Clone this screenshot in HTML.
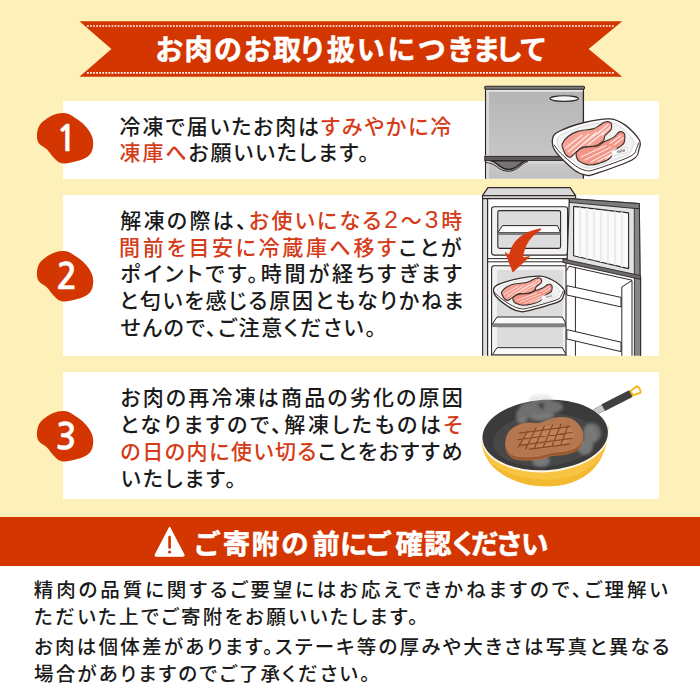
<!DOCTYPE html>
<html lang="ja"><head><meta charset="utf-8"><title>お肉のお取り扱いにつきまして</title>
<style>
html,body{margin:0;padding:0}
body{width:700px;height:700px;position:relative;overflow:hidden;background:#FEF0B9;font-family:"Liberation Sans","Noto Sans CJK JP",sans-serif}
.t{position:absolute;white-space:nowrap;letter-spacing:var(--ls);line-height:30px;height:30px;margin:0}
.card{position:absolute;left:62.6px;width:596.4px;background:#fff}
svg{position:absolute;left:0;top:0}
.hd{font-family:"Liberation Sans","Noto Sans CJK JP",sans-serif;font-weight:700;fill:#fff;stroke:#fff;stroke-width:.55;stroke-linejoin:round}
.num{font-family:"NanumGothic","Liberation Sans",sans-serif;font-weight:700;font-size:35px;fill:#fff;stroke:#fff;stroke-width:.3;stroke-linejoin:round;text-anchor:middle}
</style></head><body>
<div class="card" style="top:101px;height:77.8px"></div>
<div class="card" style="top:195px;height:160.7px"></div>
<div class="card" style="top:371.7px;height:127.6px"></div>
<div style="position:absolute;left:0;top:517px;width:700px;height:48.7px;background:#D43601"></div>
<div style="position:absolute;left:0;top:565.7px;width:700px;height:134.3px;background:#fff"></div>
<svg width="700" height="700" viewBox="0 0 700 700">
<polygon points="79.4,21.2 622.3,21.2 588.6,49 622.3,76.7 79.4,76.7 111.4,49" fill="#D43601"/>
<path d="M87,26H615M87,72.9H615" stroke="#fff" stroke-width="1.7" stroke-dasharray="1.75 1.32" fill="none"/>
<path d="M37,138 C36.5,128 40,123 45,120 C50,116 56,113 63,113 C68,113 71,115 74.5,117.5 C80,121 84,124 87,128 C91,133 93.5,138 93.2,144 C93,149 92,152.5 89,155.5 C84,160 77,161 71,162.5 C68,163.3 65,163.8 62,163.3 C58,162.5 56.5,160.5 54,158 C51,155 49.5,152 46.5,149 C43,146 37.5,145 37,138 Z" fill="#D43601"/>
<path d="M37,138 C36.5,128 40,123 45,120 C50,116 56,113 63,113 C68,113 71,115 74.5,117.5 C80,121 84,124 87,128 C91,133 93.5,138 93.2,144 C93,149 92,152.5 89,155.5 C84,160 77,161 71,162.5 C68,163.3 65,163.8 62,163.3 C58,162.5 56.5,160.5 54,158 C51,155 49.5,152 46.5,149 C43,146 37.5,145 37,138 Z" fill="#D43601" transform="translate(0,138)"/>
<path d="M37,138 C36.5,128 40,123 45,120 C50,116 56,113 63,113 C68,113 71,115 74.5,117.5 C80,121 84,124 87,128 C91,133 93.5,138 93.2,144 C93,149 92,152.5 89,155.5 C84,160 77,161 71,162.5 C68,163.3 65,163.8 62,163.3 C58,162.5 56.5,160.5 54,158 C51,155 49.5,152 46.5,149 C43,146 37.5,145 37,138 Z" fill="#D43601" transform="translate(0,298)"/>
<text class="num" x="66.6" y="151">1</text>
<text class="num" x="66.8" y="288.8">2</text>
<text class="num" x="66" y="449">3</text>
<path d="M169.6,527.4 L183.8,554.6 Q184.6,556.2 182.8,556.2 L156.4,556.2 Q154.6,556.2 155.4,554.6 Z" fill="#fff" stroke="#fff" stroke-width="1.2" stroke-linejoin="round"/>
<path d="M169.6,537.2 V547.4" stroke="#D43601" stroke-width="2.7" stroke-linecap="round"/>
<circle cx="169.6" cy="552" r="1.6" fill="#D43601"/>
<defs>
<clipPath id="c1"><rect x="62" y="70" width="598" height="108.8"/></clipPath>
<clipPath id="c2"><rect x="62" y="180" width="598" height="175.7"/></clipPath>
<g id="tray">
<path vector-effect="non-scaling-stroke" d="M552.7,138.0 C553.5,134.7 554.7,133.6 560.0,131.0 C565.3,128.4 576.0,124.5 584.4,122.5 C592.8,120.5 603.2,118.4 610.1,118.9 C617.0,119.4 620.7,121.9 625.6,125.4 C630.5,128.9 637.1,136.0 639.3,140.0 C641.5,144.0 640.0,146.1 638.9,149.4 C637.8,152.7 639.5,155.7 632.4,159.7 C625.3,163.7 604.1,170.8 596.4,173.4 C588.7,176.0 589.8,175.7 586.1,175.1 C582.4,174.5 579.2,174.0 574.1,170.0 C569.0,166.0 558.9,156.4 555.3,151.1 C551.7,145.8 551.9,141.3 552.7,138.0 Z" fill="#fff" stroke="#3b2f2b" stroke-width="1.3" stroke-linejoin="round"/>
<path d="M557.5,138.5 C558.3,135.9 560.2,135.2 565.0,133.0 C569.8,130.8 578.8,127.3 586.0,125.5 C593.2,123.7 602.6,122.0 608.5,122.3 C614.4,122.6 617.4,124.5 621.5,127.5 C625.6,130.4 631.2,136.8 633.0,140.0 C634.8,143.2 633.5,144.5 632.5,147.0 C631.5,149.5 633.1,151.8 627.0,155.0 C620.9,158.2 602.6,164.3 596.0,166.5 C589.4,168.7 590.6,168.4 587.5,168.0 C584.4,167.6 582.1,167.2 577.5,164.0 C572.9,160.8 563.3,152.8 560.0,148.5 C556.7,144.2 556.7,141.1 557.5,138.5 Z" fill="#f3f3f3" stroke="#cfcfcf" stroke-width=".8"/>
<path vector-effect="non-scaling-stroke" d="M554.2,145.0 C555.2,146.3 557.0,149.5 560.5,153.0 C564.0,156.5 571.2,162.9 575.5,165.8 C579.8,168.7 583.0,170.1 586.5,170.6 C590.0,171.1 589.2,171.3 596.5,169.0 C603.8,166.7 623.3,159.9 630.0,156.5 C636.7,153.1 635.1,150.8 636.5,148.5 C637.9,146.2 638.1,143.9 638.4,143.0" fill="none" stroke="#3b2f2b" stroke-width="1" stroke-linecap="round"/>
<path vector-effect="non-scaling-stroke" d="M576.7,152.0 C578.0,150.4 581.1,148.1 584.4,147.2 C587.7,146.2 593.1,147.2 596.4,146.3 C599.7,145.4 601.2,143.2 604.1,141.7 C607.0,140.2 611.2,139.0 613.6,137.4 C616.0,135.8 617.3,133.2 618.7,132.3 C620.1,131.4 621.0,131.5 622.0,131.8 C623.0,132.1 624.0,132.8 624.5,134.0 C625.0,135.2 625.0,137.4 624.7,139.1 C624.5,140.8 624.9,142.3 623.0,144.3 C621.1,146.3 615.8,148.8 613.6,151.1 C611.5,153.4 612.4,156.0 610.1,158.0 C607.8,160.0 603.6,161.9 599.9,163.1 C596.2,164.2 591.3,165.2 587.9,164.9 C584.5,164.6 581.2,162.7 579.3,161.4 C577.4,160.1 576.9,158.6 576.5,157.0 C576.1,155.4 575.4,153.6 576.7,152.0 Z" fill="#F39486" stroke="#3b2f2b" stroke-width="1.1" stroke-linejoin="round"/>
<path d="M581,157 L606,145.5 M585,160 L611,147 M591,162 L616,148.5 M598,161.5 L619,150 M606,159 L621,148 M610,143.5 L621,135.5 M614,145 L623,138" stroke="#fde4df" stroke-width="1.2" stroke-linecap="round" fill="none"/>
<path vector-effect="non-scaling-stroke" d="M562.1,144.3 C562.9,142.1 565.4,138.7 568.0,136.5 C570.6,134.3 573.4,132.7 577.6,131.4 C581.8,130.1 589.3,130.0 593.0,128.9 C596.7,127.8 598.0,126.2 600.0,125.0 C602.0,123.8 603.5,122.5 605.0,122.0 C606.5,121.5 607.9,121.5 609.0,121.8 C610.1,122.1 611.2,122.7 611.5,124.0 C611.8,125.3 612.1,127.7 611.0,129.7 C609.9,131.6 606.3,133.8 605.0,135.7 C603.7,137.6 605.0,139.2 603.3,140.9 C601.6,142.6 598.1,145.0 594.7,146.0 C591.3,147.0 585.8,145.9 582.7,146.9 C579.6,147.9 577.9,150.3 575.9,152.0 C573.9,153.7 572.4,156.6 570.7,157.1 C569.1,157.6 567.2,156.2 566.0,155.0 C564.8,153.8 564.1,151.8 563.5,150.0 C562.9,148.2 561.4,146.6 562.1,144.3 Z" fill="#F5A093" stroke="#3b2f2b" stroke-width="1.1" stroke-linejoin="round"/>
<path d="M565.5,148 L582,135 M568.5,151.5 L589,134 M573,153 L596,132.5 M580,146.5 L601,130.5 M588,145 L604,132 M598,133.5 L608,124.5 M602,135 L610,127" stroke="#fde8e4" stroke-width="1.2" stroke-linecap="round" fill="none"/>
<g transform="rotate(-14 621 151)"><rect x="611.5" y="148.6" width="16" height="5" fill="#fff" stroke="#bbb" stroke-width=".4"/><path d="M617.5,149.8v2.6M619,149.8v2.6M620.3,149.8v2.6M621.8,149.8v2.6M623.2,149.8v2.6M624.4,149.8v2.6" stroke="#555" stroke-width=".7"/></g>
</g>
</defs>
<g clip-path="url(#c1)">
<linearGradient id="fg" x1="0" y1="0" x2="0" y2="1"><stop offset="0" stop-color="#b4b4b4"/><stop offset=".72" stop-color="#c6c6c6"/><stop offset=".8" stop-color="#c8c8c8"/><stop offset="1" stop-color="#bdbdbd"/></linearGradient>
<rect x="485.6" y="88" width="97.8" height="95" fill="url(#fg)" stroke="#2e2725" stroke-width="1.3"/>
<rect x="486.3" y="89" width="2.6" height="95" fill="#dcdcdc"/>
<rect x="486.3" y="89.8" width="96.4" height="2" fill="#e4e4e4"/>
<rect x="484.7" y="86.3" width="99.8" height="3" rx="1.2" fill="#7b7b7b" stroke="#2e2725" stroke-width="1.1"/>
<ellipse cx="564.2" cy="98.6" rx="14.2" ry="2.8" fill="#f4f4f4" stroke="#2e2725" stroke-width="1.1"/>
<rect x="485" y="155.2" width="99" height="1.2" fill="#e2e2e2"/>
<rect x="484.8" y="156.3" width="99.4" height="4.4" fill="#5e5a59" stroke="#2e2725" stroke-width="1"/>
<rect x="486.3" y="161.2" width="96.4" height="2.2" fill="#dadada"/>
<path d="M490,160.8 C497,160.8 499,169.4 508.5,169.4 C518,169.4 521,160.8 527,160.8 Z" fill="#747474" stroke="#2e2725" stroke-width="1.5"/>
<path d="M485.5,162.6 C488,162.6 489,163 491,163.6 C497,165 499,171.2 508.5,171.2 C518,171.2 521,163 528,161.6" fill="none" stroke="#2e2725" stroke-width="1"/>
<use href="#tray"/>
</g>
<g clip-path="url(#c2)" stroke-linejoin="round">
<rect x="482.6" y="197" width="6" height="165" fill="#dedede" stroke="#2e2725" stroke-width="1.1"/>
<rect x="487.6" y="197" width="82" height="165" fill="#fff" stroke="#2e2725" stroke-width="1.2"/>
<path d="M487.9,187.6 H570.1 L575.6,195.7 H482.5 Z" fill="#d9d9d9" stroke="#2e2725" stroke-width="1.2"/>
<path d="M482.5,195.7 H575.6 V198.6 H482.5 Z" fill="#d6d6d6" stroke="#2e2725" stroke-width="1.1"/>
<rect x="491.6" y="206.7" width="76" height="48.4" rx="2.5" fill="#f2f2f2" stroke="#2e2725" stroke-width="1.1"/>
<rect x="497.8" y="210.6" width="62.8" height="37.8" rx="1.8" fill="#dcdcdc" stroke="#2e2725" stroke-width="1.1"/>
<path d="M502.5,225.6 H557.5 L560.4,232.6 H498 Z" fill="#fafafa" stroke="#2e2725" stroke-width="1"/>
<path d="M498,232.6 H560.4 V235 H498 Z" fill="#7d7d7d"/>
<path d="M488,258.6 H569 M488,261.8 H569" stroke="#2e2725" stroke-width="1" fill="none"/>
<path d="M494,265.8 H565.5 Q567.5,265.8 567.5,267.8 V362 H491.6 V268.2 Q491.6,265.8 494,265.8 Z" fill="#f2f2f2" stroke="#2e2725" stroke-width="1.1"/>
<path d="M497,270 H563 V362 H497 Z" fill="#dcdcdc"/>
<path d="M497,317 H562.3 L566.2,324.1 H492.3 Z" fill="#fafafa" stroke="#2e2725" stroke-width="1"/>
<path d="M492.3,324.1 H566.2 V327.3 H492.3 Z" fill="#808080"/>
<path d="M492.3,327.3 H497 V362 H492.3 Z M563,327.3 H566.6 V362 H563Z" fill="#f2f2f2"/>
<path d="M497,347.7 H562.3 L566.2,354.8 H492.3 Z" fill="#fafafa" stroke="#2e2725" stroke-width="1"/>
<path d="M492.3,354.8 H566.2 V358 H492.3 Z" fill="#808080"/>
<use href="#tray" transform="translate(47.9,201.3) scale(0.807,0.63)"/>
<path d="M569.3,198.6 L639.3,203.6 L640,277.2 L567.1,260.9 Z" fill="#e2e2e2" stroke="#2e2725" stroke-width="1.2"/>
<path d="M569.3,198.6 L639.3,203.6 L639.4,208.6 L634.3,208.4 L569.6,202.4 Z" fill="#7d7d7d" stroke="#2e2725" stroke-width=".9"/>
<path d="M634.3,208.4 L639.4,208.6 L640,277.2 L634.3,275.9 Z" fill="#868686" stroke="#2e2725" stroke-width=".9"/>
<path d="M573.6,206.4 L628.6,212.9 L628.6,268.6 L573.6,255.7 Z" fill="#fbfbfb" stroke="#2e2725" stroke-width="1.1"/>
<path d="M580,207.5 V257 M587,208.3 V258.7 M594,209.1 V260.3 M601,209.9 V262 M608,210.7 V263.6 M615,211.5 V265.2 M622,212.3 V266.9" stroke="#ececec" stroke-width="2.2" fill="none"/>
<path d="M566,261 L640.6,277.5 V362 H566 Z" fill="#fff" stroke="#2e2725" stroke-width="1.1"/>
<path d="M562.9,258.9 L640.6,275.6 L640.6,279.4 L562.9,262.4 Z" fill="#6d6d6d" stroke="#2e2725" stroke-width=".9"/>
<path d="M634.4,278 L640.6,279.4 V362 H634.4 Z" fill="#868686" stroke="#2e2725" stroke-width=".9"/>
<path d="M575.4,268 V362 M621.8,287 V362 M632,280.5 V362" stroke="#2e2725" stroke-width="1" fill="none"/>
<path d="M569,266.2 L632,280.2 M621.8,287 L632,280.5 M569,266.2 L566.3,271" stroke="#2e2725" stroke-width="1" fill="none"/>
<path d="M566.8,285.6 L621,297.4 V306.9 L566.8,295 Z" fill="#fff" stroke="#2e2725" stroke-width="1"/>
<path d="M566.8,329.6 L621,342.2 V351.6 L566.8,339 Z" fill="#fff" stroke="#2e2725" stroke-width="1"/>
<path d="M540.4,228.8 C524,232 512,240 509.4,255.4 L505.4,252.4 L512.9,272 L529.6,256.6 L522.6,257.8 C524,246 530,236 541,229.6 Z" fill="#D63A10" stroke="#D63A10" stroke-width=".8"/>
</g>
<g>
<g transform="translate(2.6,3.2) rotate(-27.3 594 408)">
<rect x="600" y="404.2" width="34" height="7.6" rx="3.2" fill="#404040"/>
<rect x="592" y="405" width="9.5" height="6" rx="1" fill="#c9c9c9" stroke="#8d8d8d" stroke-width=".6"/>
<path d="M633.5,405.6 L641.5,404.2 Q643.6,408 641.5,411.8 L633.5,410.4 Z" fill="none" stroke="#F5B921" stroke-width="2" stroke-linejoin="round"/>
</g>
<path d="M481.6,441.5 C483,468 512,486.3 547,486.3 C583,486.3 608,466 608.9,426 L603,440 C590,462 566,471 545,471.4 C520,471.4 497,462 485,446 Z" fill="#FAC443"/>
<path d="M489,462 C502,478 523,486.3 547,486.3 C572,486.3 592,476 602,456 C590,472 570,479.5 547,479.5 C523,479.5 503,473 489,462 Z" fill="#F4B932"/>
<ellipse cx="545.2" cy="435.9" rx="64" ry="36.4" transform="rotate(-3.5 545.2 435.9)" fill="#FDF7E4"/>
<ellipse cx="545.2" cy="435" rx="62.8" ry="35.2" transform="rotate(-3.5 545.2 435)" fill="#3b3b3b"/>
<ellipse cx="545" cy="440" rx="52" ry="26.5" transform="rotate(-4 545 440)" fill="#474747"/>
<filter id="bl" x="-20%" y="-20%" width="140%" height="140%"><feGaussianBlur stdDeviation="1.6"/></filter>
<g fill="#c8c8c8" opacity=".38" filter="url(#bl)"><ellipse cx="530" cy="409" rx="11" ry="7"/><ellipse cx="553" cy="407" rx="10" ry="6"/><ellipse cx="541" cy="415" rx="13" ry="6"/><ellipse cx="592" cy="433" rx="9" ry="10"/><ellipse cx="585" cy="447" rx="8" ry="8"/><ellipse cx="541" cy="461" rx="9" ry="6"/><ellipse cx="522" cy="416" rx="6" ry="8"/><ellipse cx="541" cy="399" rx="12" ry="4.5"/></g>
<path d="M506.0,443.2 C506.4,440.6 507.5,437.4 509.0,435.2 C510.5,433.0 512.8,431.5 515.0,430.2 C517.2,428.9 519.5,427.9 522.0,427.2 C524.5,426.5 527.3,426.3 530.0,426.2 C532.7,426.1 535.5,426.9 538.0,426.7 C540.5,426.4 542.5,425.5 545.0,424.7 C547.5,423.9 550.2,422.4 553.0,421.7 C555.8,421.0 559.0,420.6 562.0,420.7 C565.0,420.8 568.3,421.1 571.0,422.2 C573.7,423.3 576.2,425.2 578.0,427.2 C579.8,429.2 581.2,431.9 582.0,434.2 C582.8,436.5 583.0,438.9 582.5,441.2 C582.0,443.5 580.6,446.4 579.0,448.2 C577.4,450.0 575.7,451.1 573.0,452.2 C570.3,453.3 566.5,454.1 563.0,454.7 C559.5,455.3 555.3,455.1 552.0,455.7 C548.7,456.3 545.8,457.5 543.0,458.2 C540.2,458.9 538.0,459.4 535.0,459.7 C532.0,460.0 528.2,460.3 525.0,460.2 C521.8,460.1 518.5,459.9 516.0,459.2 C513.5,458.5 511.6,457.6 510.0,456.2 C508.4,454.8 507.2,452.9 506.5,450.7 C505.8,448.5 505.6,445.8 506.0,443.2 Z" fill="#9A5832" stroke="#B96A38" stroke-width=".8"/>
<path d="M506.0,440.0 C506.4,437.4 507.5,434.2 509.0,432.0 C510.5,429.8 512.8,428.3 515.0,427.0 C517.2,425.7 519.5,424.7 522.0,424.0 C524.5,423.3 527.3,423.1 530.0,423.0 C532.7,422.9 535.5,423.8 538.0,423.5 C540.5,423.2 542.5,422.3 545.0,421.5 C547.5,420.7 550.2,419.2 553.0,418.5 C555.8,417.8 559.0,417.4 562.0,417.5 C565.0,417.6 568.3,417.9 571.0,419.0 C573.7,420.1 576.2,422.0 578.0,424.0 C579.8,426.0 581.2,428.7 582.0,431.0 C582.8,433.3 583.0,435.7 582.5,438.0 C582.0,440.3 580.6,443.2 579.0,445.0 C577.4,446.8 575.7,447.9 573.0,449.0 C570.3,450.1 566.5,450.9 563.0,451.5 C559.5,452.1 555.3,451.9 552.0,452.5 C548.7,453.1 545.8,454.3 543.0,455.0 C540.2,455.7 538.0,456.2 535.0,456.5 C532.0,456.8 528.2,457.1 525.0,457.0 C521.8,456.9 518.5,456.7 516.0,456.0 C513.5,455.3 511.6,454.4 510.0,453.0 C508.4,451.6 507.2,449.7 506.5,447.5 C505.8,445.3 505.6,442.6 506.0,440.0 Z" fill="#B5774F" stroke="#C27C4C" stroke-width=".8"/>
<ellipse cx="548" cy="437" rx="26" ry="11" transform="rotate(-8 548 437)" fill="#C48A60" opacity=".55"/>
<path d="M518,447.3 L527.6,431.2 M525.7,448.6 L536,428 M534.1,448.6 L544.3,426.1 M543.1,447.3 L552.7,424.8 M552.1,446 L561.1,424.1 M561.1,444.1 L568.1,425.4 M519.3,433.1 L569.4,426.7 M518,439.6 L572,432.5 M519.3,445.3 L572,438.3 M529.6,449.2 L569.4,444.1" stroke="#7E4424" stroke-width="1.25" stroke-linecap="round" fill="none" opacity=".9"/>
</g>
<text class="hd" x="155.3 184.6 213.9 243.4 272.9 298.4 327.1 356.8 387.6 417.7 446.8 472.4 495.1 519.3" y="60.3" font-size="28">お肉のお取り扱いにつきまして</text>
<text class="hd" x="193.2 222.8 251.6 281.2 312.2 340.0 364.2 395.5 424.0 449.5 471.0 495.5 521.1" y="554.4" font-size="27.5">ご寄附の前にご確認ください</text>
</svg>
<div id="a1" class="t" style="left:119.60px;top:111.50px;font-size:21px;font-weight:500;--ls:1.885px;font-feature-settings:&quot;palt&quot;;"><span style="color:#1a1a1a">冷凍で届いたお肉は</span><span style="color:#D53B17">すみやかに冷</span></div>
<div id="a2" class="t" style="left:119.60px;top:138.30px;font-size:21px;font-weight:500;--ls:1.856px;font-feature-settings:&quot;palt&quot;;"><span style="color:#D53B17">凍庫へ</span><span style="color:#1a1a1a">お願いいたします。</span></div>
<div id="b1" class="t" style="left:120.30px;top:206.00px;font-size:21px;font-weight:500;--ls:2.331px;font-feature-settings:&quot;palt&quot;;"><span style="color:#1a1a1a">解凍の際は、</span><span style="color:#D53B17">お使いになる<span style="font-size:24.5px;line-height:0;padding:0 .6px">2</span>～<span style="font-size:24.5px;line-height:0;padding:0 .6px">3</span>時</span></div>
<div id="b2" class="t" style="left:119.10px;top:232.70px;font-size:21px;font-weight:500;--ls:2.649px;font-feature-settings:&quot;palt&quot;;"><span style="color:#D53B17">間前を目安に冷蔵庫へ移す</span><span style="color:#1a1a1a">ことが</span></div>
<div id="b3" class="t" style="left:120.30px;top:259.40px;font-size:21px;font-weight:500;--ls:2.865px;font-feature-settings:&quot;palt&quot;;"><span style="color:#1a1a1a">ポイントです。時間が経ちすぎます</span></div>
<div id="b4" class="t" style="left:119.30px;top:286.10px;font-size:21px;font-weight:500;--ls:1.866px;font-feature-settings:&quot;palt&quot;;"><span style="color:#1a1a1a">と匂いを感じる原因ともなりかねま</span></div>
<div id="b5" class="t" style="left:120.30px;top:312.80px;font-size:21px;font-weight:500;--ls:1.748px;font-feature-settings:&quot;palt&quot;;"><span style="color:#1a1a1a">せんので、ご注意ください。</span></div>
<div id="c1" class="t" style="left:120.40px;top:383.10px;font-size:21px;font-weight:500;--ls:2.176px;font-feature-settings:&quot;palt&quot;;"><span style="color:#1a1a1a">お肉の再冷凍は商品の劣化の原因</span></div>
<div id="c2" class="t" style="left:119.80px;top:410.00px;font-size:21px;font-weight:500;--ls:2.611px;font-feature-settings:&quot;palt&quot;;"><span style="color:#1a1a1a">となりますので、解凍したものは</span><span style="color:#D53B17">そ</span></div>
<div id="c3" class="t" style="left:120.40px;top:436.90px;font-size:21px;font-weight:500;--ls:1.572px;font-feature-settings:&quot;palt&quot;;"><span style="color:#D53B17">の日の内に使い切る</span><span style="color:#1a1a1a">ことをおすすめ</span></div>
<div id="c4" class="t" style="left:120.80px;top:463.80px;font-size:21px;font-weight:500;--ls:2.100px;font-feature-settings:&quot;palt&quot;;"><span style="color:#1a1a1a">いたします。</span></div>
<div id="d1" class="t" style="left:33.80px;top:575.20px;font-size:19.5px;font-weight:500;--ls:2.915px;font-feature-settings:&quot;palt&quot;;"><span style="color:#1a1a1a">精肉の品質に関するご要望にはお応えできかねますので、ご理解い</span></div>
<div id="d2" class="t" style="left:34.10px;top:601.60px;font-size:19.5px;font-weight:500;--ls:2.400px;font-feature-settings:&quot;palt&quot;;"><span style="color:#1a1a1a">ただいた上でご寄附をお願いいたします。</span></div>
<div id="d3" class="t" style="left:34.10px;top:632.20px;font-size:19.5px;font-weight:500;--ls:2.257px;font-feature-settings:&quot;palt&quot;;"><span style="color:#1a1a1a">お肉は個体差があります。ステーキ等の厚みや大きさは写真と異なる</span></div>
<div id="d4" class="t" style="left:34.00px;top:658.60px;font-size:19.5px;font-weight:500;--ls:2.202px;font-feature-settings:&quot;palt&quot;;"><span style="color:#1a1a1a">場合がありますのでご了承ください。</span></div>
</body></html>
